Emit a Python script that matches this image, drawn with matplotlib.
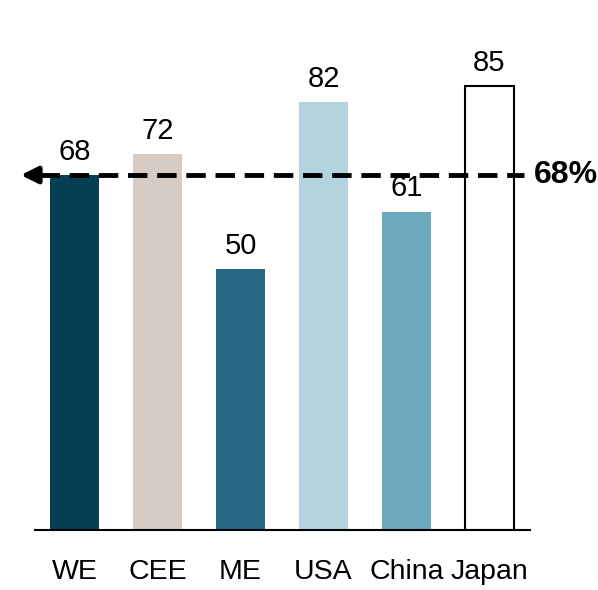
import matplotlib.pyplot as plt
from matplotlib import font_manager

regions = ['WE', 'CEE', 'ME', 'USA', 'China', 'Japan']
values = [68, 72, 50, 82, 61, 85]
colors = ['#043f56', '#d6ccc4', '#276884', '#b3d4de', '#6daac0', '#ffffff']
average = 68

names = {f.name for f in font_manager.fontManager.ttflist}
family = 'Liberation Sans Narrow' if 'Liberation Sans Narrow' in names else 'Liberation Sans'
plt.rcParams['font.family'] = [family, 'DejaVu Sans']

fig = plt.figure(figsize=(5.98, 5.90), dpi=100)
ax = fig.add_axes([35 / 598, 60 / 590, 495 / 598, 522 / 590])

x = range(len(regions))
bars = ax.bar(x, values, width=0.59, color=colors, edgecolor=colors, linewidth=0)
# Japan is an outlined bar
bars[-1].set_edgecolor('black')
bars[-1].set_linewidth(1.5)

for xi, v in zip(x, values):
    ax.text(xi, v + 1.8, str(v), ha='center', va='bottom', fontsize=21)

# dashed average line with arrow pointing left
ax.plot([-0.42, 5.42], [average, average], color='black', lw=3.5,
        linestyle=(0, (4, 2)), clip_on=False, zorder=5)
ax.annotate('', xy=(-0.68, average), xytext=(-0.38, average),
            arrowprops=dict(arrowstyle='-|>,head_length=1.0,head_width=0.5',
                            color='black', lw=3.5),
            annotation_clip=False, zorder=6)
ax.text(5.53, average, '68%', ha='left', va='center', fontsize=23,
        fontweight='bold', clip_on=False)

ax.set_xlim(-0.476, 5.488)
ax.set_ylim(0, 100)
ax.set_xticks(list(x))
ax.set_xticklabels(regions, fontsize=20.5)
ax.tick_params(axis='x', length=0, pad=21)
ax.set_yticks([])
for side in ['top', 'right', 'left']:
    ax.spines[side].set_visible(False)
ax.spines['bottom'].set_linewidth(1.5)

fig.savefig('out.png', dpi=100)
